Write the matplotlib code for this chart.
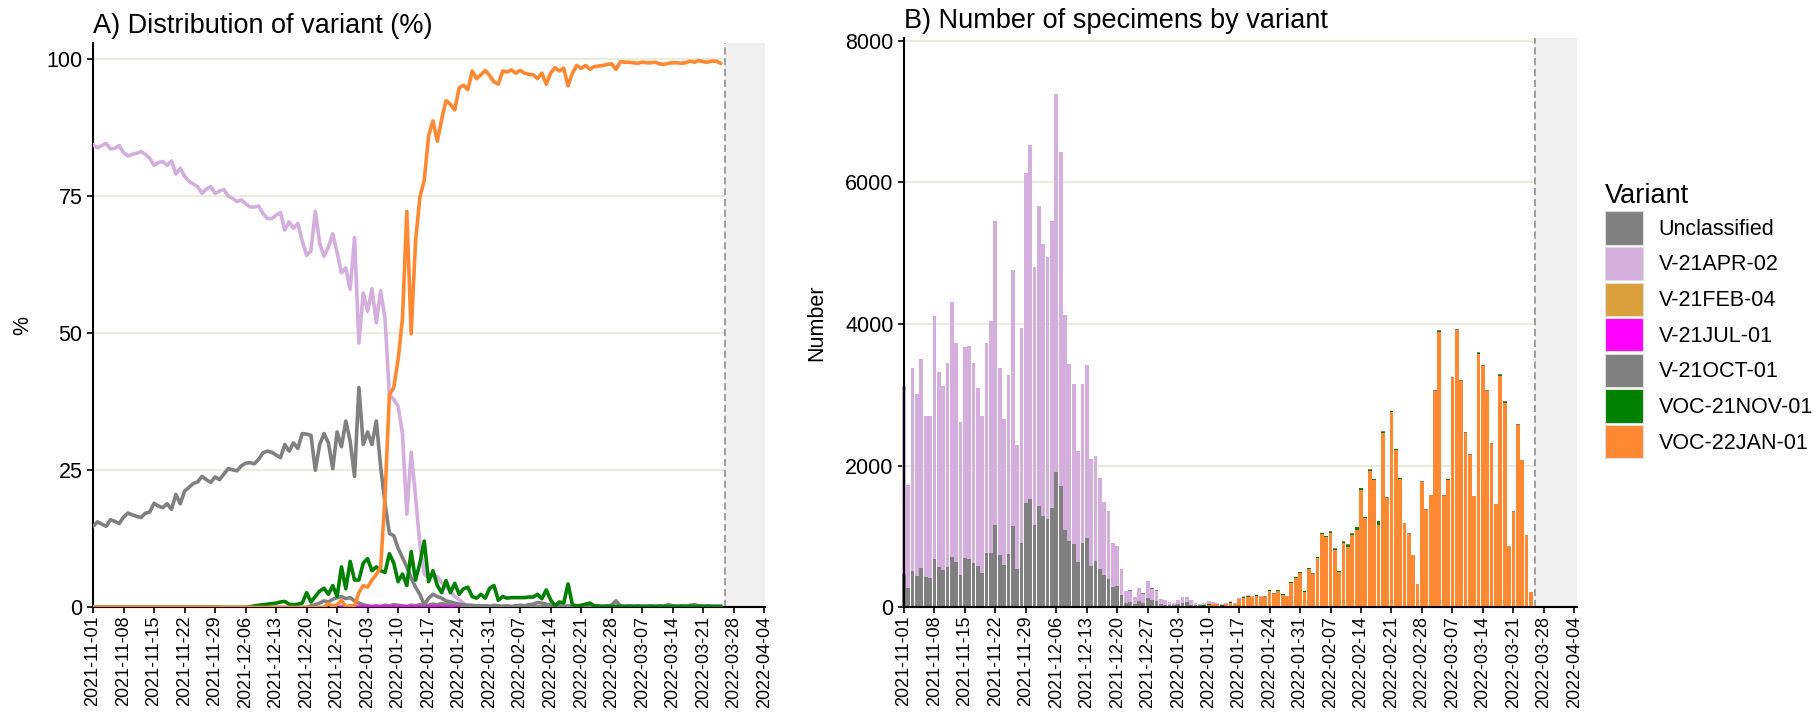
import numpy as np
import pandas as pd
import matplotlib
matplotlib.use("Agg")
import matplotlib.pyplot as plt
import matplotlib.dates as mdates
from matplotlib.patches import Patch

plt.rcParams['font.family'] = ['Liberation Sans', 'DejaVu Sans']

# daily data, 2021-11-01 .. 2022-03-25
dates = pd.date_range('2021-11-01', '2022-03-25', freq='D')

variants = ['Unclassified', 'V-21APR-02', 'V-21FEB-04', 'V-21JUL-01',
            'V-21OCT-01', 'VOC-21NOV-01', 'VOC-22JAN-01']
colors = ['#808080', '#D4AEDD', '#DAA03C', '#FF00FF',
          '#808080', '#008000', '#FF8833']

# percent of specimens per day (panel A)
pct_unclassified = [0.0] * 50 + [
    0.3, 0.5, 0.8, 1.2, 1.0, 1.5, 1.8, 2.0, 1.6, 1.8,
    1.2, 0.8, 0.5, 0.3, 0.2, 0.3, 0.2, 0.4, 0.3, 0.5,
    0.4, 0.3, 0.2, 0.4, 0.3, 0.5, 0.3, 0.4, 0.6, 0.5,
    0.7, 0.5, 0.4, 0.3, 0.5, 0.3, 0.4, 0.2, 0.3, 0.2,
    0.3, 0.2, 0.4, 0.3, 0.2, 0.3, 0.2, 0.3, 0.4, 0.3,
    0.5, 0.6, 0.9, 0.8, 0.6, 0.4, 0.2, 0.3, 0.2, 0.3,
    0.2, 0.2, 0.3, 0.2, 0.3, 0.2, 0.3, 0.2, 0.3, 0.4,
    1.2, 0.3, 0.2, 0.3, 0.2, 0.3, 0.2, 0.2, 0.3, 0.2,
    0.3, 0.2, 0.5, 0.3, 0.2, 0.3, 0.2, 0.4, 0.5, 0.3,
    0.2, 0.3, 0.2, 0.2, 0.2]

pct_apr = [
    84.3, 83.8, 84.2, 84.6, 83.6, 83.7, 84.2, 82.9, 82.3, 82.6,
    82.8, 83.1, 82.6, 81.9, 80.6, 81.1, 81.3, 80.6, 81.4, 79.0,
    80.1, 78.6, 77.7, 77.2, 76.7, 75.5, 76.3, 76.7, 75.5, 75.9,
    76.2, 75.0, 74.6, 74.0, 74.3, 73.6, 73.0, 73.0, 73.2, 71.8,
    70.9, 70.9, 71.5, 72.0, 68.8, 70.3, 69.1, 70.0, 66.8, 64.2,
    65.0, 72.2, 66.4, 64.0, 65.7, 68.1, 64.7, 61.0, 61.9, 58.0,
    67.4, 48.2, 57.3, 54.0, 58.1, 51.9, 57.7, 52.6, 38.8, 37.9,
    36.7, 31.7, 17.0, 28.3, 20.2, 11.5, 6.1, 5.4, 6.0, 5.6,
    4.5, 3.8, 3.0, 2.0, 1.4, 0.8, 0.3, 0.1, 0.0] + [np.nan] * 56

pct_feb = [0.0] * 30 + [np.nan] * 115

pct_jul = [np.nan] * 57 + [0.1] * 28 + [np.nan] * 60

pct_oct = [
    14.8, 15.6, 15.2, 14.8, 16.0, 15.7, 15.3, 16.5, 17.2, 16.9,
    16.6, 16.4, 17.2, 17.4, 19.0, 18.5, 18.2, 18.9, 17.9, 20.6,
    18.9, 21.2, 21.9, 22.6, 22.9, 23.9, 23.3, 22.8, 23.8, 23.3,
    24.3, 25.3, 25.1, 24.9, 25.8, 26.3, 26.4, 26.2, 27.0, 28.2,
    28.5, 28.3, 27.8, 27.3, 29.7, 28.5, 30.0, 29.0, 31.7, 31.6,
    31.4, 25.0, 29.7, 31.7, 30.0, 25.3, 32.0, 29.3, 34.0, 30.3,
    23.9, 40.1, 29.7, 32.0, 29.7, 34.0, 25.6, 18.9, 13.5, 13.1,
    10.8, 9.1, 7.4, 5.4, 3.7, 2.4, 0.5, 1.7, 2.4, 2.0,
    1.7, 1.2, 1.0, 0.8, 0.6, 0.5, 0.4, 0.4, 0.3, 0.3,
    0.3, 0.2, 0.3, 0.2, 0.2, 0.2, 0.1, 0.2] + [0.1] * 47

pct_nov = [0.0] * 36 + [
    0.1, 0.3, 0.4, 0.5, 0.6, 0.7, 0.8, 1.0, 1.1, 0.6,
    0.5, 0.6, 0.8, 2.7, 1.0, 2.0, 3.0, 3.5, 2.4, 4.0,
    2.0, 7.4, 3.4, 8.4, 5.0, 5.0, 8.1, 8.9, 6.7, 7.4,
    6.7, 6.4, 9.8, 8.1, 4.7, 6.1, 4.0, 10.2, 5.0, 8.1,
    12.1, 4.7, 6.7, 4.0, 2.7, 4.9, 2.7, 4.4, 2.4, 3.4,
    3.7, 2.0, 1.7, 2.4, 1.7, 3.5, 4.0, 1.3, 2.0, 1.7,
    1.8, 1.8, 1.8, 1.8, 1.9, 1.9, 2.4, 1.6, 3.2, 1.4,
    0.3, 1.0, 0.8, 4.3, 0.5, 0.3, 0.4, 0.6, 0.8, 0.3] + [0.2] * 29

pct_jan = [0.0] * 54 + [
    0.7, 0.2, 0.5, 1.3, 0.2, 0.3, 0.3, 2.7, 4.0, 3.7,
    5.0, 6.0, 7.4, 20.2, 38.8, 40.1, 45.2, 52.6, 72.2, 49.9,
    66.8, 74.8, 77.9, 86.0, 88.7, 85.0, 89.0, 92.4, 91.7, 90.7,
    94.7, 95.2, 94.4, 97.8, 96.4, 97.1, 97.9, 97.0, 95.8, 95.4,
    97.8, 97.6, 98.0, 97.4, 97.9, 97.4, 97.2, 97.1, 96.4, 97.4,
    95.4, 97.4, 98.4, 97.8, 98.3, 95.1, 97.4, 98.8, 98.3, 98.8,
    98.1, 98.6, 98.7, 98.8, 99.0, 99.1, 98.1, 99.5, 99.4, 99.4,
    99.3, 99.2, 99.4, 99.3, 99.3, 99.4, 99.1, 99.0, 99.2, 99.3,
    99.3, 99.2, 99.3, 99.6, 99.4, 99.7, 99.5, 99.4, 99.6, 99.6,
    99.2]

# total specimens per day (panel B)
totals = [
    3123, 1726, 3373, 3012, 3506, 2699, 2699, 4117, 3320, 3123,
    3453, 4313, 3729, 2614, 3676, 3692, 3453, 3092, 2709, 3729,
    4048, 5455, 3373, 2656, 3278, 4770, 2300, 3942, 6135, 6523,
    4808, 5673, 5126, 4940, 5455, 7240, 6428, 4127, 3442, 3161,
    2205, 3150, 3426, 2098, 2141, 1833, 1487, 1355, 903, 861,
    550, 230, 240, 150, 280, 200, 380, 270, 240, 120,
    100, 80, 70, 110, 150, 150, 100, 70, 50, 60,
    85, 80, 60, 50, 70, 85, 60, 130, 160, 170,
    160, 180, 160, 160, 250, 200, 250, 185, 160, 360,
    430, 500, 235, 555, 480, 710, 1055, 1015, 1075, 835,
    515, 935, 890, 1052, 1142, 1689, 1275, 1950, 1817, 1222,
    2486, 1556, 2778, 2242, 1833, 1195, 1046, 744, 329, 1780,
    1392, 1594, 3065, 3915, 1583, 1817, 3251, 3931, 3214, 2470,
    2167, 1578, 3612, 3426, 3065, 2321, 1461, 3293, 2911, 866,
    1355, 2587, 2088, 1025, 223]

cutoff = mdates.date2num(pd.Timestamp('2022-03-26'))
tick_dates = pd.date_range('2021-11-01', '2022-04-04', freq='7D')

pct = pd.DataFrame(dict(zip(variants, [pct_unclassified, pct_apr, pct_feb, pct_jul,
                                       pct_oct, pct_nov, pct_jan])), index=dates)
share = pct.fillna(0)
share = share.div(share.sum(axis=1), axis=0)
counts = share.mul(np.array(totals), axis=0)
col = dict(zip(variants, colors))

fig = plt.figure(figsize=(18.18, 7.12), dpi=100)
ax1 = fig.add_axes([0.0512, 0.1468, 0.3696, 0.7928])
ax2 = fig.add_axes([0.4972, 0.1468, 0.3702, 0.7998])

x0 = mdates.date2num(pd.Timestamp('2021-11-01'))
fs = 15.5


def style(ax, xmax):
    ax.set_xlim(x0, x0 + xmax)
    ax.axvspan(cutoff, x0 + xmax, color='#F0F0F0', zorder=1, lw=0)
    ax.axvline(cutoff, color='#999999', lw=1.3, ls=(0, (4, 2)), zorder=1.2)
    ax.yaxis.grid(True, color='#EAECDD', lw=1.5)
    ax.set_axisbelow(True)
    for s in ['top', 'right']:
        ax.spines[s].set_visible(False)
    for s in ['left', 'bottom']:
        ax.spines[s].set_linewidth(1.5)
    ax.set_xticks(tick_dates)
    ax.xaxis.set_major_formatter(mdates.DateFormatter('%Y-%m-%d'))
    ax.tick_params(length=4, width=1.2, colors='black')
    ax.tick_params(axis='y', labelsize=fs)
    ax.tick_params(axis='x', labelrotation=90, labelsize=13, pad=2)


# A) lines
for v in variants:
    ax1.plot(dates, pct[v], color=col[v], lw=2.6, zorder=3)
style(ax1, 154.2)
ax1.set_ylim(0, 102.9)
ax1.set_yticks([0, 25, 50, 75, 100])
ax1.set_ylabel('%', fontsize=fs)
ax1.yaxis.set_label_coords(-0.089, 0.5)
ax1.set_title('A) Distribution of variant (%)', loc='left', fontsize=19.5, pad=7)

# B) stacked bars
stack_order = ['VOC-22JAN-01', 'VOC-21NOV-01', 'V-21OCT-01', 'V-21JUL-01',
               'V-21FEB-04', 'V-21APR-02', 'Unclassified']
bottom = np.zeros(len(dates))
for v in stack_order:
    h = counts[v].values
    ax2.bar(dates, h, bottom=bottom, width=0.86, color=col[v], lw=0,
            zorder=2, clip_on=False)
    bottom += h
style(ax2, 154.6)
ax2.set_ylim(0, 8037)
ax2.set_yticks([0, 2000, 4000, 6000, 8000])
ax2.set_ylabel('Number', fontsize=fs)
ax2.yaxis.set_label_coords(-0.114, 0.5)
ax2.set_title('B) Number of specimens by variant', loc='left', fontsize=19.5, pad=7)

handles = [Patch(facecolor=c, edgecolor='#DDDDDD', lw=0.8) for c in colors]
leg = fig.legend(handles, variants, title='Variant', loc='upper left',
                 bbox_to_anchor=(0.8828, 0.743), frameon=False, fontsize=fs,
                 title_fontsize=19.5, handlelength=1.77, handleheight=2.0,
                 labelspacing=0.11, handletextpad=0.72, borderpad=0,
                 borderaxespad=0, alignment='left')

fig.savefig('out.png', dpi=100)
